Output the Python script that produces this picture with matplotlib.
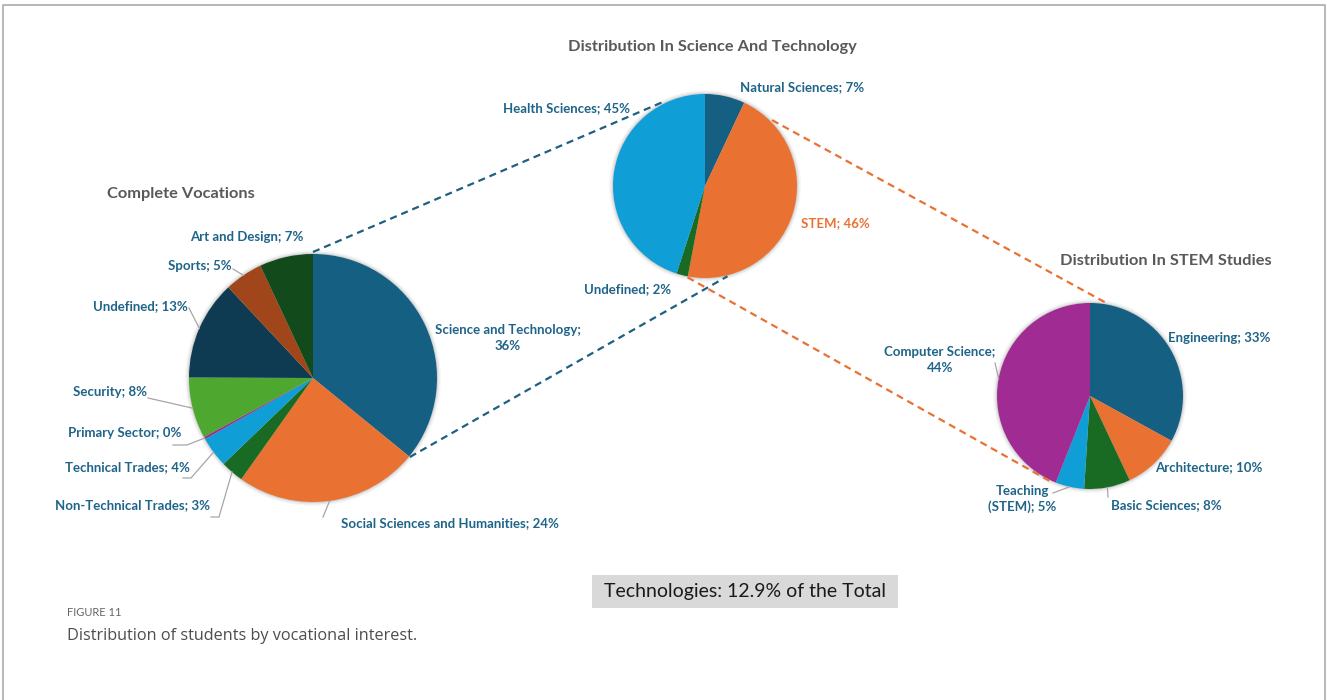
import numpy as np
import matplotlib.pyplot as plt
from matplotlib.patches import Circle, Rectangle

# vocações completas
voc_names = ['Science and Technology', 'Social Sciences and Humanities', 'Non-Technical Trades',
             'Technical Trades', 'Primary Sector', 'Security', 'Undefined', 'Sports', 'Art and Design']
voc_values = [36, 24, 3, 4, 0.3, 8, 13, 5, 7]
voc_colors = ['#156082', '#e97132', '#196b24', '#0f9ed5', '#a02b93',
              '#4ea72e', '#0e3a52', '#a0461a', '#124a1b']

# distribuição em ciência e tecnologia
st_names = ['Natural Sciences', 'STEM', 'Undefined', 'Health Sciences']
st_values = [7, 46, 2, 45]
st_colors = ['#156082', '#e97132', '#196b24', '#0f9ed5']

# distribuição em STEM
stem_names = ['Engineering', 'Architecture', 'Basic Sciences', 'Teaching\n(STEM)', 'Computer Science']
stem_values = [33, 10, 8, 5, 44]
stem_colors = ['#156082', '#e97132', '#196b24', '#0f9ed5', '#a02b93']

tech_share = 12.9

W, H = 1327, 700
LABEL = '#1f6489'
GREY = '#595959'
plt.rcParams['font.family'] = ['Lato', 'DejaVu Sans']

fig = plt.figure(figsize=(W / 100, H / 100), dpi=100)
ax = fig.add_axes([0, 0, 1, 1])


def pt(x, y):
    # coordenadas em pixels (origem no topo) -> coordenadas do eixo
    return x, H - y


def on_circle(center, radius, ang):
    a = np.deg2rad(ang)
    return center[0] + radius * np.cos(a), center[1] + radius * np.sin(a)


def draw_pie(values, colors, center, radius):
    # sombra suave em volta da pizza
    for k, alpha in enumerate([0.10, 0.06, 0.03]):
        ax.add_patch(Circle(center, radius + 1 + 1.5 * k, color='black', alpha=alpha, lw=0, zorder=1))
    wedges, _ = ax.pie(values, colors=colors, startangle=90, counterclock=False,
                       center=center, radius=radius, frame=True,
                       wedgeprops=dict(linewidth=0, zorder=2))
    return wedges


def draw_labels(wedges, names, values, center, radius, layout, color=LABEL):
    for w, name, v, lay in zip(wedges, names, values, layout):
        x, y, ha, sep, leader, col = lay
        txt = f'{name};{sep}{v:.0f}%'
        ax.text(*pt(x, y), txt, ha=ha, va='center', fontsize=9.5, fontweight='bold',
                color=col or color, linespacing=1.3, zorder=5)
        if leader:
            mid = (w.theta1 + w.theta2) / 2
            xs = [pt(*p)[0] for p in leader]
            ys = [pt(*p)[1] for p in leader]
            ex, ey = on_circle(center, radius, mid)
            ax.plot(xs + [ex], ys + [ey], color='#a6a6a6', lw=0.9, zorder=4)


c1, r1 = pt(313, 378), 124
c2, r2 = pt(705, 186), 92
c3, r3 = pt(1090, 396), 93

w1 = draw_pie(voc_values, voc_colors, c1, r1)
w2 = draw_pie(st_values, st_colors, c2, r2)
w3 = draw_pie(stem_values, stem_colors, c3, r3)

# posição dos rótulos: x, y, alinhamento, separador, linha guia, cor
voc_layout = [
    (508, 338, 'center', '\n', None, None),
    (341, 523, 'left', ' ', [(323, 517)], None),
    (210, 505, 'right', ' ', [(211, 517), (219, 517)], None),
    (190, 467, 'right', ' ', [(183, 478), (191, 478)], None),
    (181, 433, 'right', ' ', [(173, 445), (187, 445)], None),
    (147, 392, 'right', ' ', [(148, 398)], None),
    (188, 306, 'right', ' ', [(189, 308)], None),
    (232, 266, 'right', ' ', [(233, 269)], None),
    (303, 237, 'right', ' ', None, None),
]
st_layout = [
    (740, 87, 'left', ' ', None, None),
    (801, 223, 'left', ' ', None, '#e97132'),
    (671, 289, 'right', ' ', None, None),
    (630, 108, 'right', ' ', None, None),
]
stem_layout = [
    (1168, 338, 'left', ' ', None, None),
    (1155, 467, 'left', ' ', None, None),
    (1111, 505, 'left', ' ', [(1108, 497)], None),
    (1022, 499, 'center', ' ', [(1053, 493)], None),
    (940, 360, 'center', '\n', [(995, 363)], None),
]

draw_labels(w1, voc_names, voc_values, c1, r1, voc_layout)
draw_labels(w2, st_names, st_values, c2, r2, st_layout)
draw_labels(w3, stem_names, stem_values, c3, r3, stem_layout)

# linhas tracejadas ligando as pizzas
blue, orange = '#1f5f80', '#e97132'
dash = dict(lw=1.6, linestyle=(0, (3.2, 2.2)), zorder=3)
ax.plot(*zip(on_circle(c1, r1 + 2, w1[0].theta2), on_circle(c2, r2 + 2, 117)), color=blue, **dash)
ax.plot(*zip(on_circle(c1, r1 + 1, w1[0].theta1), on_circle(c2, r2 + 1, -76)), color=blue, **dash)
ax.plot(*zip(on_circle(c2, r2 + 2, 44.5), on_circle(c3, r3 + 2, 81)), color=orange, **dash)
ax.plot(*zip(on_circle(c2, r2 + 1, w2[1].theta1), on_circle(c3, r3 + 1, -115.7)), color=orange, **dash)

# títulos
title_kw = dict(ha='center', va='center', fontsize=11.8, fontweight='bold', color=GREY)
ax.text(*pt(181, 194), 'Complete Vocations', **title_kw)
ax.text(*pt(712, 47), 'Distribution In Science And Technology', **title_kw)
ax.text(*pt(1166, 261), 'Distribution In STEM Studies', **title_kw)

# caixa com o total
bx, by = pt(592, 608)
ax.add_patch(Rectangle((bx, by), 306, 33, facecolor='#d9d9d9', edgecolor='none', zorder=2))
ax.text(*pt(745, 591), f'Technologies: {tech_share}% of the Total', ha='center', va='center',
        fontsize=14, color='#1a1a1a', zorder=3)

# legenda da figura
ax.text(*pt(67, 612), 'FIGURE 11', ha='left', va='center', fontsize=8, color='#666666')
ax.text(*pt(67, 636), 'Distribution of students by vocational interest.', ha='left', va='center',
        fontsize=11.7, color='#4d4d4d', family=['Open Sans', 'DejaVu Sans'])

# moldura
ax.plot([3, 3, W - 2, W - 2], [0, H - 5, H - 5, 0], color='#aaaaaa', lw=1.2, zorder=6)

ax.set_xlim(0, W)
ax.set_ylim(0, H)
ax.set_aspect('equal')
ax.axis('off')
fig.savefig('out.png', dpi=100)
